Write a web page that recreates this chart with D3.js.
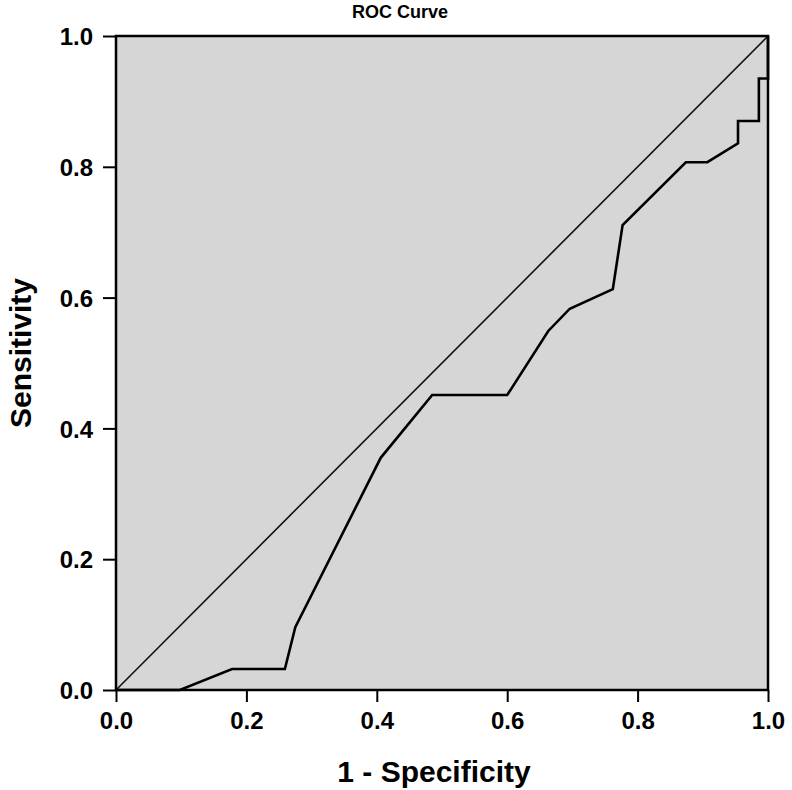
<!DOCTYPE html>
<html>
<head>
<meta charset="utf-8">
<script src="https://cdn.jsdelivr.net/npm/d3@7"></script>
<style>
  body { margin: 0; background: #fff; }
  svg { display: block; font-family: "Liberation Sans", Arial, sans-serif; }
</style>
</head>
<body>
<div id="chart"></div>
<script>
// ROC curve points (1 - specificity, sensitivity)
var fpr = [0, 0.098, 0.178, 0.259, 0.275, 0.406, 0.485, 0.600, 0.663, 0.696, 0.762, 0.777, 0.874, 0.907, 0.954, 0.954, 0.986, 0.986, 1.0, 1.0];
var tpr = [0, 0, 0.032, 0.032, 0.096, 0.355, 0.451, 0.451, 0.549, 0.583, 0.613, 0.711, 0.807, 0.807, 0.836, 0.870, 0.870, 0.935, 0.935, 1.0];
var tickValues = [0, 0.2, 0.4, 0.6, 0.8, 1.0];

var margin = {top: 36, right: 24, bottom: 100, left: 116},
    width = 792 - margin.left - margin.right,
    height = 790 - margin.top - margin.bottom;

var svg = d3.select("#chart")
    .append("svg")
        .attr("width", 792)
        .attr("height", 790)
    .append("g")
        .attr("transform", "translate(" + margin.left + "," + margin.top + ")");

var xScale = d3.scaleLinear().domain([0, 1]).range([0, width]);
var yScale = d3.scaleLinear().domain([0, 1]).range([height, 0]);

// grey plot background
svg.append("rect")
    .attr("width", width)
    .attr("height", height)
    .attr("fill", "#d6d6d6");

// reference diagonal
svg.append("line")
    .attr("x1", xScale(0)).attr("y1", yScale(0))
    .attr("x2", xScale(1)).attr("y2", yScale(1))
    .attr("stroke", "#111")
    .attr("stroke-width", 1.6);

// roc curve
var points = fpr.map((d, i) => [d, tpr[i]]);
svg.append("path")
    .datum(points)
    .attr("fill", "none")
    .attr("stroke", "#000")
    .attr("stroke-width", 2.6)
    .attr("stroke-linejoin", "miter")
    .attr("d", d3.line()
        .x(d => xScale(d[0]))
        .y(d => yScale(d[1])));

// frame
svg.append("rect")
    .attr("width", width)
    .attr("height", height)
    .attr("fill", "none")
    .attr("stroke", "#000")
    .attr("stroke-width", 2.5);

// axes
var xAxis = svg.append("g")
    .attr("transform", "translate(0," + height + ")")
    .call(d3.axisBottom(xScale).tickValues(tickValues).tickFormat(d3.format(".1f")).tickSize(12).tickPadding(10));
var yAxis = svg.append("g")
    .call(d3.axisLeft(yScale).tickValues(tickValues).tickFormat(d3.format(".1f")).tickSize(13).tickPadding(10));

[xAxis, yAxis].forEach(function(ax) {
    ax.select(".domain").remove();
    ax.selectAll("line").attr("stroke", "#000").attr("stroke-width", 2);
    ax.selectAll("text")
        .attr("font-family", "Liberation Sans, Arial, sans-serif")
        .attr("font-size", "24px")
        .attr("font-weight", "bold")
        .attr("fill", "#000");
});
yAxis.selectAll("text").attr("dy", "0.36em");

// title and axis labels
svg.append("text")
    .attr("x", width / 2 - 42)
    .attr("y", -18)
    .attr("text-anchor", "middle")
    .attr("font-size", "18px")
    .attr("font-weight", "bold")
    .text("ROC Curve");

svg.append("text")
    .attr("x", width / 2 - 8)
    .attr("y", height + 92)
    .attr("text-anchor", "middle")
    .attr("font-size", "30px")
    .attr("font-weight", "bold")
    .text("1 - Specificity");

svg.append("text")
    .attr("transform", "rotate(-90)")
    .attr("x", -(height / 2) + 10)
    .attr("y", -85)
    .attr("text-anchor", "middle")
    .attr("font-size", "30px")
    .attr("font-weight", "bold")
    .text("Sensitivity");
</script>
</body>
</html>
